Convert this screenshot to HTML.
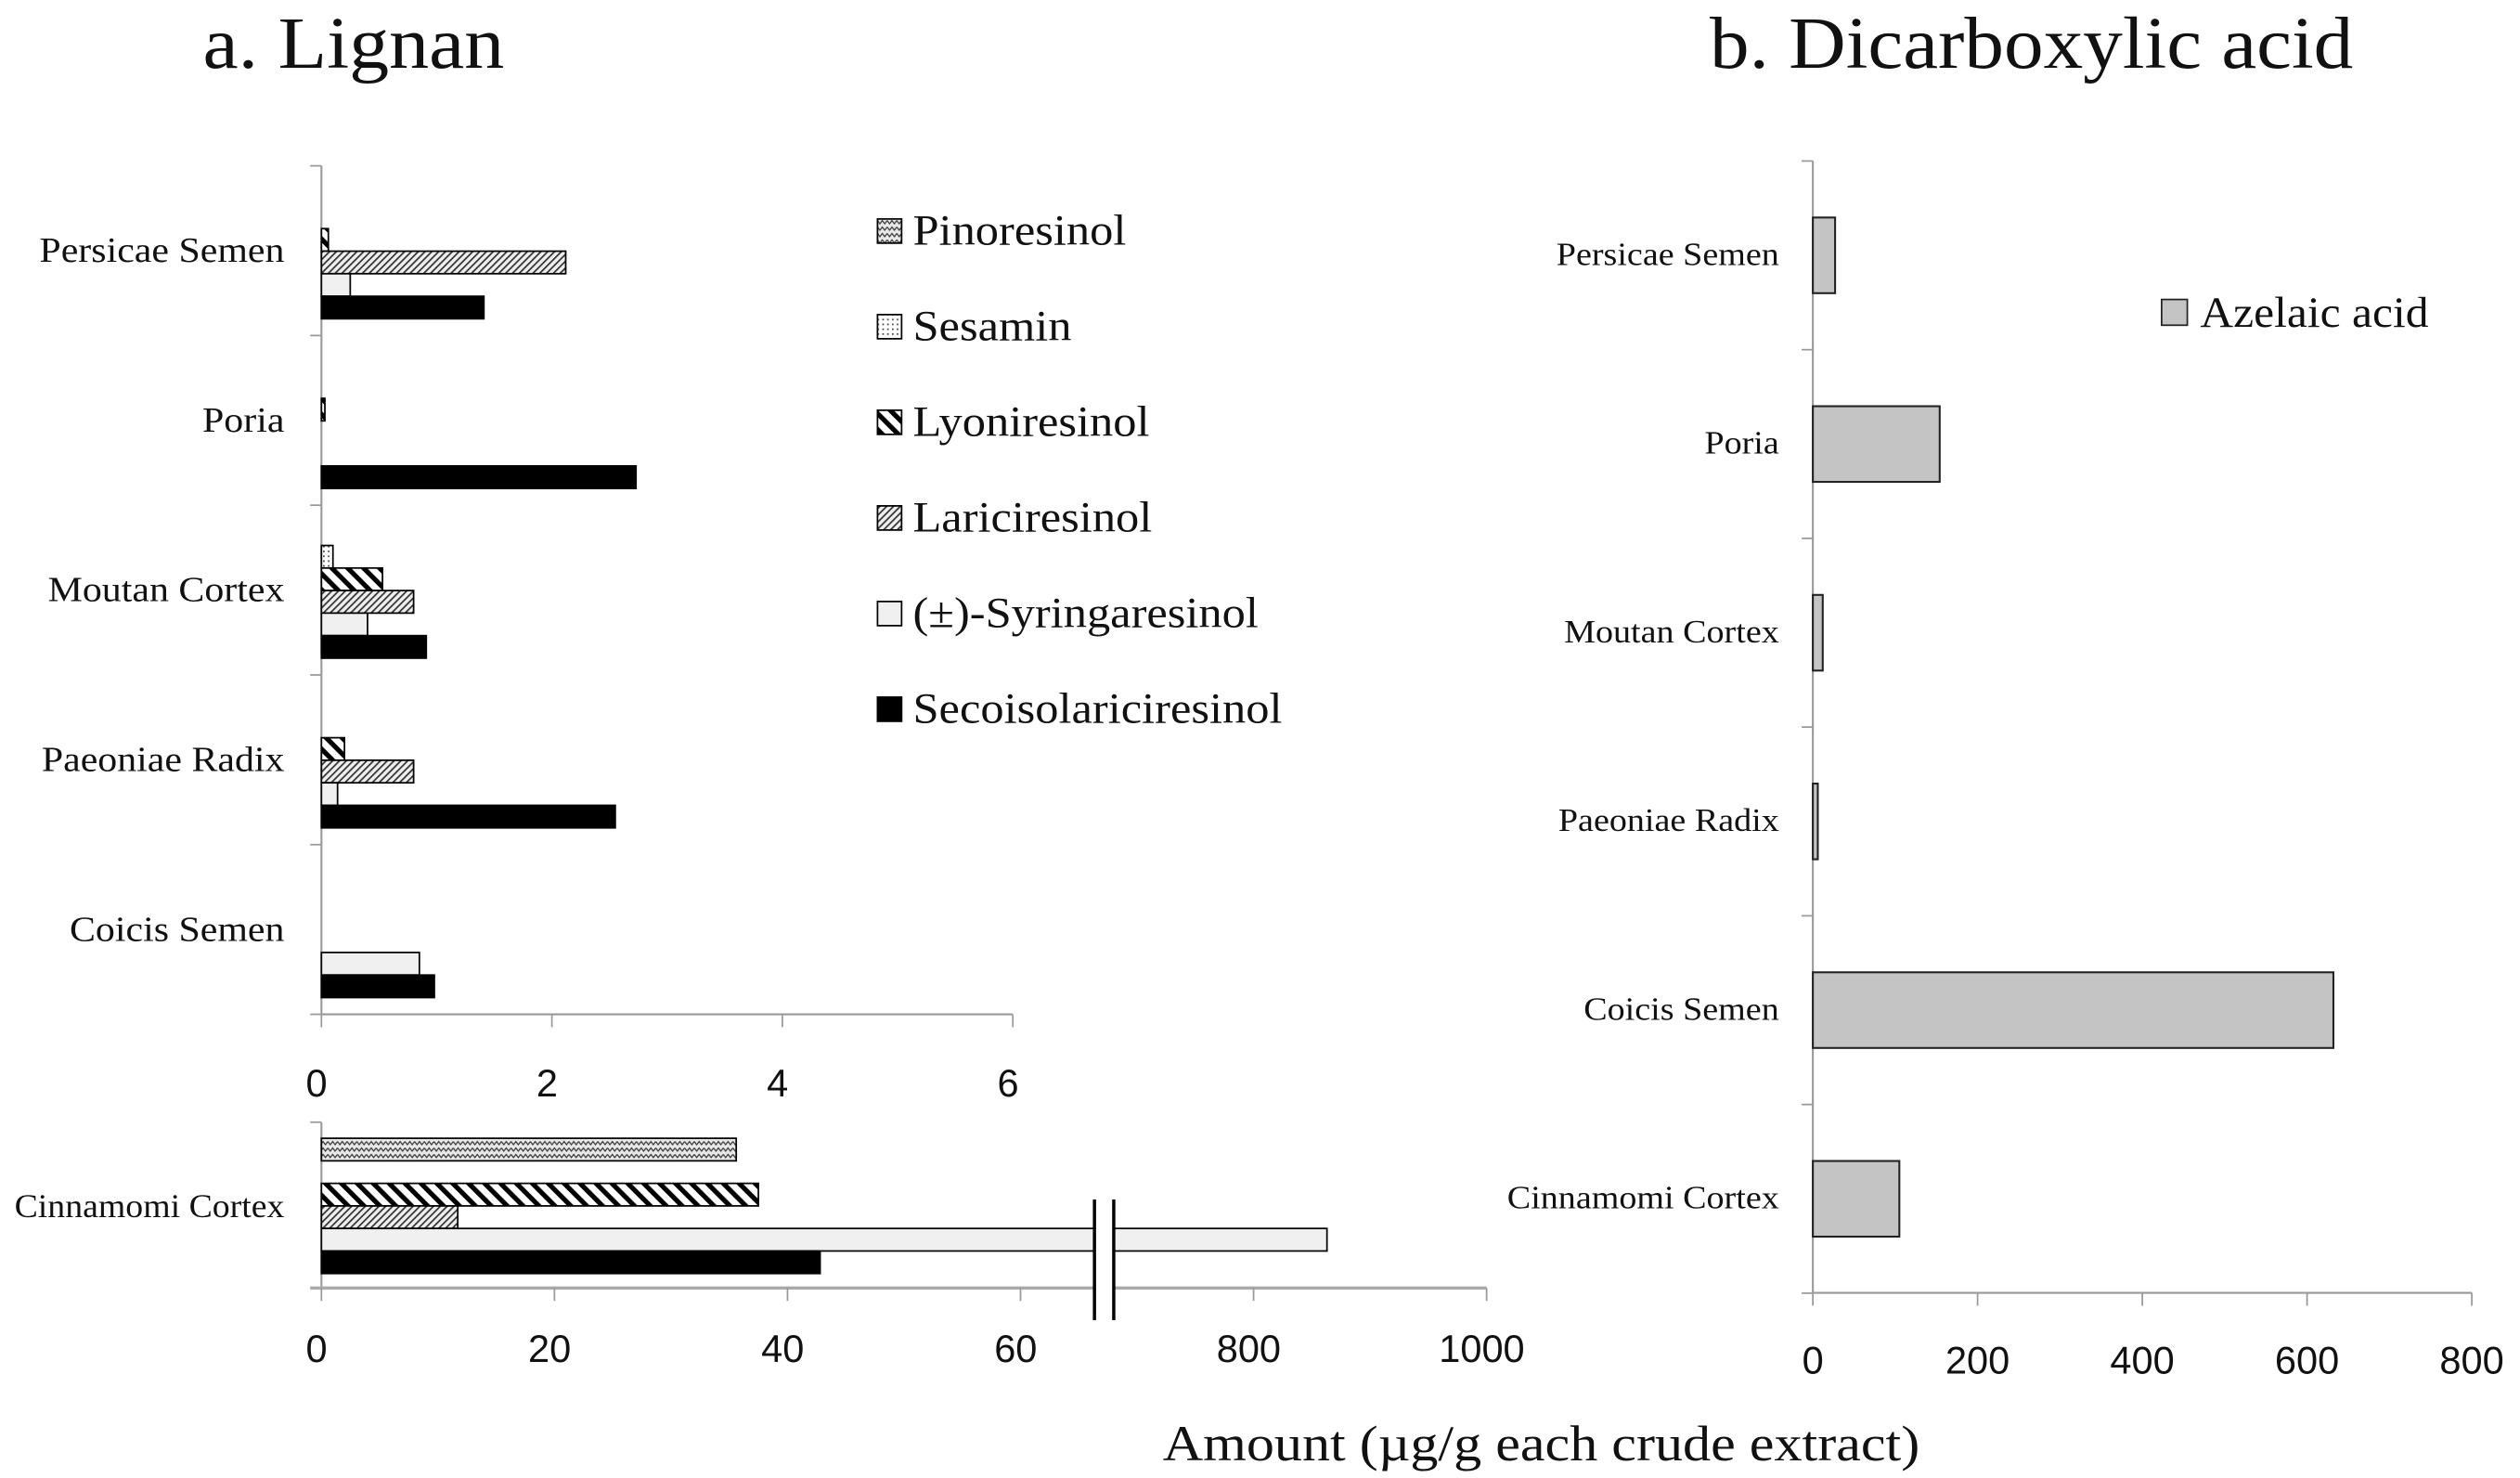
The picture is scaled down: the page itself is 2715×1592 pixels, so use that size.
<!DOCTYPE html>
<html><head><meta charset="utf-8"><style>
html,body{margin:0;padding:0;background:#fff;}
svg{display:block;}
text{font-family:"Liberation Serif",serif;fill:#111;}
.sans{font-family:"Liberation Sans",sans-serif;}
</style></head><body>
<svg id="chart" width="2715" height="1592" viewBox="0 0 1568 918" preserveAspectRatio="none" xmlns="http://www.w3.org/2000/svg">
<defs>
<pattern id="p-pino" patternUnits="userSpaceOnUse" width="6" height="4"><rect width="6" height="4" fill="#e8e8e8"/><path d="M0,1 L1.5,3 L3,1 L4.5,3 L6,1" stroke="#333" stroke-width="0.7" fill="none"/></pattern>
<pattern id="p-ses" patternUnits="userSpaceOnUse" width="3" height="3"><rect width="3" height="3" fill="#fff"/><rect width="1" height="1" fill="#444"/></pattern>
<pattern id="p-lyon" patternUnits="userSpaceOnUse" width="7" height="7" patternTransform="rotate(-45)"><rect width="7" height="7" fill="#fff"/><rect width="3" height="7" fill="#000"/></pattern>
<pattern id="p-lari" patternUnits="userSpaceOnUse" width="3" height="3" patternTransform="rotate(45)"><rect width="3" height="3" fill="#eee"/><rect width="1" height="3" fill="#333"/></pattern>
</defs>
<text x="220" y="42" font-size="46" text-anchor="middle" data-stretch="1.08">a. Lignan</text>
<text x="1264" y="42" font-size="46" text-anchor="middle" data-stretch="1.07">b. Dicarboxylic acid</text>
<text x="959" y="907" font-size="31" text-anchor="middle" data-stretch="1.12">Amount (µg/g each crude extract)</text>
<g id="ga"></g><g id="gb"></g><g id="legend"></g>
</svg>
<script>
const herbsTop = ["Persicae Semen","Poria","Moutan Cortex","Paeoniae Radix","Coicis Semen"];
const seriesNames = ["Pinoresinol","Sesamin","Lyoniresinol","Lariciresinol","(±)-Syringaresinol","Secoisolariciresinol"];
const pinoresinol = [0,0,0,0,0];
const sesamin = [0,0,0.1,0,0];
const lyoniresinol = [0.06,0.03,0.53,0.2,0];
const lariciresinol = [2.12,0,0.8,0.8,0];
const syringaresinol = [0.25,0,0.4,0.14,0.85];
const secoisolariciresinol = [1.41,2.73,0.91,2.55,0.98];
const cinnLabel = "Cinnamomi Cortex";
const cinnValues = [35.6,0,37.5,11.7,863,42.8];
const topTicks = [0,2,4,6];
const lowTicks = [0,20,40,60,800,1000];
const herbsB = ["Persicae Semen","Poria","Moutan Cortex","Paeoniae Radix","Coicis Semen","Cinnamomi Cortex"];
const azelaic = [27,154,12,6,632,105];
const bTicks = [0,200,400,600,800];

const NS="http://www.w3.org/2000/svg";
function mk(tag,attrs,parent,txt){const e=document.createElementNS(NS,tag);for(const k in attrs)e.setAttribute(k,attrs[k]);if(txt!==undefined)e.textContent=txt;parent.appendChild(e);return e;}
const fills=["url(#p-pino)","url(#p-ses)","url(#p-lyon)","url(#p-lari)","#f0f0f0","#000"];
const seriesKeys=["pinoresinol","sesamin","lyoniresinol","lariciresinol","syringaresinol","secoisolariciresinol"];
const seriesData=[pinoresinol,sesamin,lyoniresinol,lariciresinol,syringaresinol,secoisolariciresinol];
const ga=document.getElementById('ga');
const x0=200, xTop=v=>x0+v*71.7;
const yTop0=103, bandA=105.4;
mk('line',{x1:x0,y1:yTop0,x2:x0,y2:630,stroke:'#999','stroke-width':1.2},ga);
for(let i=0;i<=herbsTop.length;i++){const y=yTop0+i*bandA;const t=mk('line',{x1:193,y1:y,x2:x0,y2:y,stroke:'#999'},ga);}
herbsTop.forEach((h,i)=>{
  const b=yTop0+i*bandA;
  const l=mk('text',{x:177,y:b+bandA/2+7,'font-size':22,'text-anchor':'end','data-stretch':1.1},ga,h);
  
  
  seriesData.forEach((arr,s)=>{
    if(arr[i]<=0)return;
    const r=mk('rect',{x:x0,y:b+11+s*14,width:xTop(arr[i])-x0,height:14,fill:fills[s],stroke:'#000','stroke-width':1},ga);
    
    
  });
});
mk('line',{x1:x0,y1:630,x2:630,y2:630,stroke:'#999','stroke-width':1.2},ga);
topTicks.forEach(v=>{const x=xTop(v);mk('line',{x1:x,y1:630,x2:x,y2:638,stroke:'#999'},ga);
  const t=mk('text',{x:x-3,y:681,'font-size':24,'text-anchor':'middle',class:'sans'},ga,String(v));
  
  });
const xLow=v=>v<=100?x0+v*7.25:780+(v-800)*0.725;
const yL0=697,yL1=800;
mk('line',{x1:x0,y1:yL0,x2:x0,y2:yL1,stroke:'#999','stroke-width':1.2},ga);
mk('line',{x1:193,y1:yL0,x2:x0,y2:yL0,stroke:'#999'},ga);
const cl=mk('text',{x:177,y:756,'font-size':21,'text-anchor':'end','data-stretch':1.04},ga,cinnLabel);


cinnValues.forEach((v,s)=>{
  if(v<=0)return;
  const r=mk('rect',{x:x0,y:yL0+10+s*14,width:xLow(v)-x0,height:14,fill:fills[s],stroke:'#000','stroke-width':1},ga);
  
  
});
mk('line',{x1:193,y1:yL1,x2:925,y2:yL1,stroke:'#aaa','stroke-width':2},ga);
lowTicks.forEach(v=>{const x=xLow(v);mk('line',{x1:x,y1:yL1,x2:x,y2:808,stroke:'#999'},ga);
  const t=mk('text',{x:x-3,y:846,'font-size':24,'text-anchor':'middle',class:'sans'},ga,String(v));
  
  });
const br=mk('g',{},ga);
mk('rect',{x:681,y:745,width:12,height:75,fill:'#fff'},br);
mk('line',{x1:681,y1:745,x2:681,y2:820,stroke:'#000','stroke-width':2},br);
mk('line',{x1:693,y1:745,x2:693,y2:820,stroke:'#000','stroke-width':2},br);
const lg=document.getElementById('legend');
seriesNames.forEach((n,s)=>{const y=143+s*59.4;
  const g=mk('g',{},lg);
  mk('rect',{x:546,y:y-7,width:15,height:15,fill:fills[s],stroke:'#000','stroke-width':1},g);
  mk('text',{x:568,y:y+9,'font-size':27,'data-stretch':1.08},g,n);});
const gb=document.getElementById('gb');
const bx0=1128,xB=v=>bx0+v*0.5125,by0=100,bandB=117.2;
mk('line',{x1:bx0,y1:by0,x2:bx0,y2:803,stroke:'#999','stroke-width':1.2},gb);
for(let i=0;i<=herbsB.length;i++){const y=by0+i*bandB;mk('line',{x1:1121,y1:y,x2:bx0,y2:y,stroke:'#999'},gb);}
herbsB.forEach((h,i)=>{const c=by0+(i+0.5)*bandB;
  const l=mk('text',{x:1107,y:c+6,'font-size':20,'text-anchor':'end','data-stretch':1.1},gb,h);
  
  
  const r=mk('rect',{x:bx0,y:c-23.5,width:xB(azelaic[i])-bx0,height:47,fill:'#c4c4c4',stroke:'#222','stroke-width':1.2},gb);
  
  });
mk('line',{x1:bx0,y1:803,x2:1538,y2:803,stroke:'#999','stroke-width':1.2},gb);
bTicks.forEach(v=>{const x=xB(v);mk('line',{x1:x,y1:803,x2:x,y2:811,stroke:'#999'},gb);
  const t=mk('text',{x:x,y:853,'font-size':24,'text-anchor':'middle',class:'sans'},gb,String(v));
  
  });
const lb=mk('g',{},gb);
mk('rect',{x:1345,y:186,width:16,height:16,fill:'#c4c4c4',stroke:'#222'},lb);
mk('text',{x:1369,y:203,'font-size':27,'data-stretch':1.06},lb,'Azelaic acid');
document.querySelectorAll('text[data-stretch]').forEach(t=>{
  const w=t.getComputedTextLength()*parseFloat(t.getAttribute('data-stretch'));
  t.setAttribute('textLength',w.toFixed(1));
  t.setAttribute('lengthAdjust','spacingAndGlyphs');
});
</script>
</body></html>
